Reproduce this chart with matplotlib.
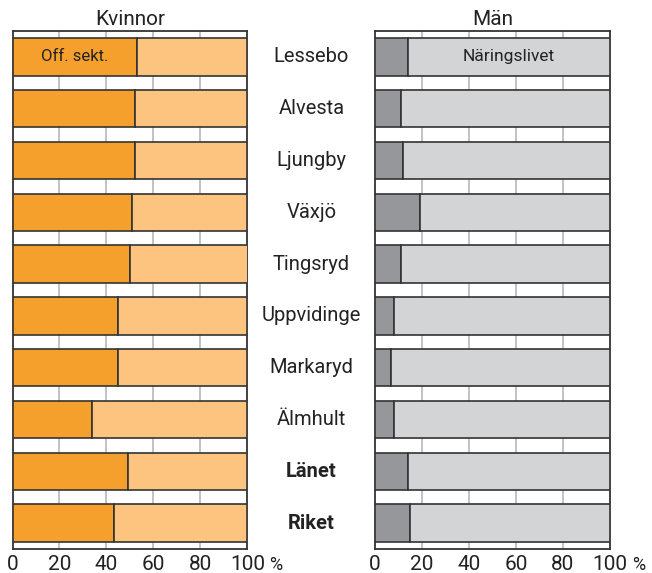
import matplotlib.pyplot as plt

plt.rcParams['font.family'] = ['Roboto', 'DejaVu Sans']

kommuner = ["Lessebo", "Alvesta", "Ljungby", "Växjö", "Tingsryd",
            "Uppvidinge", "Markaryd", "Älmhult", "Länet", "Riket"]
# share in public sector (%)
kvinnor_off = [53, 52, 52, 51, 50, 45, 45, 34, 49, 43]
man_off = [14, 11, 12, 19, 11, 8, 7, 8, 14, 15]

W, H = 652, 573
fig = plt.figure(figsize=(W / 100, H / 100), dpi=100)

ax_k = fig.add_axes([12.5 / W, 1 - 549 / H, 235 / W, 518 / H])
ax_m = fig.add_axes([375 / W, 1 - 549 / H, 235 / W, 518 / H])

ypos = list(range(len(kommuner)))
edge = "#333333"

def draw(ax, off, c_dark, c_light):
    priv = [100 - v for v in off]
    ax.barh(ypos, off, height=0.72, color=c_dark, edgecolor=edge, linewidth=1.2, zorder=3)
    ax.barh(ypos, priv, left=off, height=0.72, color=c_light, edgecolor=edge, linewidth=1.2, zorder=3)
    ax.set_xlim(0, 100)
    ax.set_ylim(len(kommuner) - 0.5, -0.5)
    ax.set_yticks([])
    ax.set_xticks([0, 20, 40, 60, 80, 100])
    ax.tick_params(axis="x", length=0, labelsize=15, colors="#222222", pad=4)
    for x in [20, 40, 60, 80]:
        ax.axvline(x, color="#bdbdbd", linewidth=1.3, zorder=1)
    for s in ax.spines.values():
        s.set_color(edge)
        s.set_linewidth(1.3)

draw(ax_k, kvinnor_off, "#F5A02C", "#FDC47F")
draw(ax_m, man_off, "#96979A", "#D3D4D6")

ax_k.set_title("Kvinnor", fontsize=15, color="#222222", pad=4)
ax_m.set_title("Män", fontsize=15, color="#222222", pad=4)

ax_k.text(kvinnor_off[0] / 2, 0, "Off. sekt.", ha="center", va="center",
          fontsize=12, color="#222222", zorder=4)
ax_m.text((man_off[0] + 100) / 2, 0, "Näringslivet", ha="center", va="center",
          fontsize=12.5, color="#222222", zorder=4)

for i, name in enumerate(kommuner):
    bold = name in ("Länet", "Riket")
    ax_k.text(1.272, i, name, transform=ax_k.get_yaxis_transform(),
              ha="center", va="center", fontsize=14.5, color="#222222",
              fontweight="bold" if bold else "normal")

for ax in (ax_k, ax_m):
    ax.text(1.12, -0.03, "%", transform=ax.transAxes, ha="center", va="center",
            fontsize=13, color="#222222")

fig.savefig("out.png", dpi=100, facecolor="white")
